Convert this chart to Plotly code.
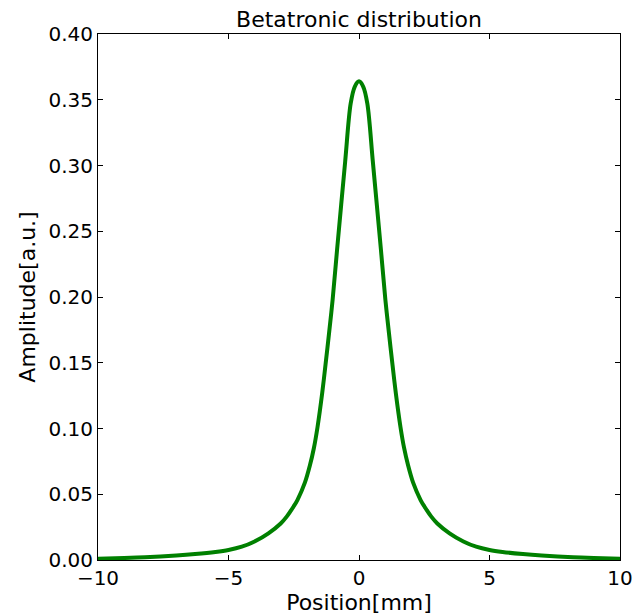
import plotly.graph_objects as go

# (symmetric curve, right half)
x_half = [0, 0.16, 0.32, 0.53, 0.84, 1.01, 1.15, 1.28, 1.41, 1.59, 1.73, 1.88, 2.07, 2.36, 2.5, 2.77, 3.0,
          3.47, 4.0, 4.49, 5.0, 5.5, 6.28, 7.0, 8.2, 9.0, 10.0]
y_half = [0.364, 0.360, 0.347, 0.303, 0.236, 0.198, 0.172, 0.149, 0.127, 0.101, 0.085, 0.072, 0.059,
          0.0456, 0.0409, 0.033, 0.0278, 0.0203, 0.0141, 0.0101, 0.0076, 0.0061, 0.0045, 0.0034,
          0.0021, 0.0015, 0.001]

x_vals = [-v for v in x_half[::-1]] + x_half[1:]
y_vals = y_half[::-1] + y_half[1:]

x_ticks = [-10, -5, 0, 5, 10]
y_ticks = [0.00, 0.05, 0.10, 0.15, 0.20, 0.25, 0.30, 0.35, 0.40]

font = "DejaVu Sans"
tick_size = 20
title_size = 22

fig = go.Figure()
fig.add_trace(go.Scatter(x=x_vals, y=y_vals, mode="lines",
                         line=dict(color="#008000", width=4, shape="spline", smoothing=0.9),
                         showlegend=False, hoverinfo="skip"))

axis_common = dict(showgrid=False, zeroline=False, showline=True, linecolor="#000000", linewidth=1,
                   mirror="ticks", ticks="inside", ticklen=5, tickcolor="#000000", tickwidth=1,
                   automargin=False, ticklabeloverflow="allow",
                   tickfont=dict(family=font, size=tick_size, color="#000000"))

fig.update_layout(
    width=633, height=616,
    margin=dict(l=98, r=13, t=34, b=56),
    paper_bgcolor="white", plot_bgcolor="white",
    title=dict(text="Betatronic distribution", x=0.5, xref="paper", xanchor="center",
               y=1 - 19 / 616, yref="container", yanchor="middle",
               font=dict(family=font, size=title_size, color="#000000")),
    xaxis=dict(range=[-10, 10], tickvals=x_ticks,
               ticktext=[("\u2212" + str(-t)) if t < 0 else str(t) for t in x_ticks],
               title=dict(text="Position[mm]", font=dict(family=font, size=title_size, color="#000000"), standoff=2),
               **axis_common),
    yaxis=dict(range=[0, 0.40], tickvals=y_ticks, ticktext=[f"{t:.2f}" for t in y_ticks],
               title=dict(text="Amplitude[a.u.]", font=dict(family=font, size=title_size, color="#000000"), standoff=6),
               **axis_common),
)

fig.write_html("out.html")
